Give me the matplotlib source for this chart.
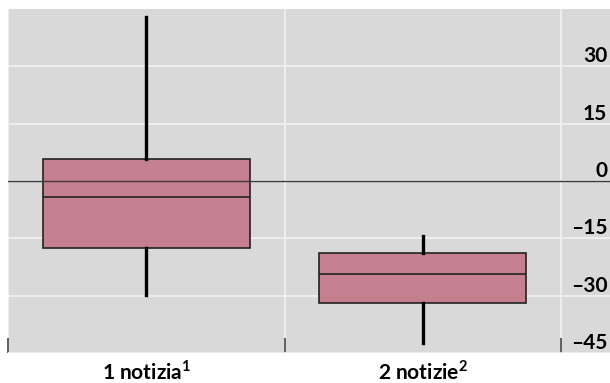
"""Box plot: 1 notizia vs 2 notizie."""

import matplotlib

matplotlib.use("Agg")

import matplotlib.pyplot as plt

# values
labels = ["1 notizia$^\\mathbf{1}$", "2 notizie$^\\mathbf{2}$"]
whisker_lo = [-29.7, -42.3]
q1 = [-17.5, -31.8]
median = [-4.2, -24.3]
q3 = [5.7, -18.8]
whisker_hi = [42.8, -14.3]
yticks = [-45, -30, -15, 0, 15, 30]

BOX = "#c4808f"
BG = "#d9d9d9"
FONT = ["Lato", "DejaVu Sans"]


def main() -> None:
    plt.rcParams["font.family"] = FONT
    plt.rcParams["mathtext.fontset"] = "custom"
    plt.rcParams["mathtext.rm"] = "Lato:bold"
    plt.rcParams["mathtext.bf"] = "Lato:bold"
    fig = plt.figure(figsize=(6.10, 3.83), dpi=100)
    ax = fig.add_axes([8 / 610, 30 / 383, 1 - 8 / 610, 344 / 383])
    ax.set_facecolor(BG)

    stats = [
        {"whislo": lo, "q1": a, "med": m, "q3": b, "whishi": hi, "label": lab}
        for lo, a, m, b, hi, lab in zip(whisker_lo, q1, median, q3, whisker_hi, labels)
    ]
    ax.bxp(
        stats,
        positions=[0, 1],
        widths=0.75,
        showfliers=False,
        showcaps=False,
        patch_artist=True,
        boxprops=dict(facecolor=BOX, edgecolor="#222222", linewidth=1.2),
        medianprops=dict(color="#222222", linewidth=1.2),
        whiskerprops=dict(color="black", linewidth=2.4),
        zorder=3,
    )

    ax.axhline(0, color="#3a3a3a", linewidth=1.0, zorder=4)

    ax.set_xlim(-0.5, 1.677)
    ax.set_ylim(-45, 45)

    ax.set_xticks([0, 1])
    ax.set_xticklabels(labels, fontsize=15, fontweight="bold")
    ax.set_xticks([-0.5, 0.5, 1.5], minor=True)
    ax.tick_params(axis="x", which="major", length=0, pad=5)
    ax.tick_params(axis="x", which="minor", direction="in", length=11,
                   width=1.3, color="#555555")

    ax.set_yticks(yticks)
    ax.set_yticklabels([f"{v}".replace("-", "\u2013") for v in yticks],
                       fontsize=15, fontweight="bold")
    ax.yaxis.tick_right()
    ax.tick_params(axis="y", length=0, pad=-2)
    for lab in ax.get_yticklabels():
        lab.set_horizontalalignment("right")
        lab.set_verticalalignment("bottom")

    ax.grid(True, which="minor", axis="x", color="#f2f2f2", linewidth=1.2)
    ax.grid(True, which="major", axis="y", color="#f2f2f2", linewidth=1.2)
    ax.set_axisbelow(True)
    for s in ax.spines.values():
        s.set_visible(False)

    fig.savefig("out.png", dpi=100, facecolor="white")


if __name__ == "__main__":
    main()
